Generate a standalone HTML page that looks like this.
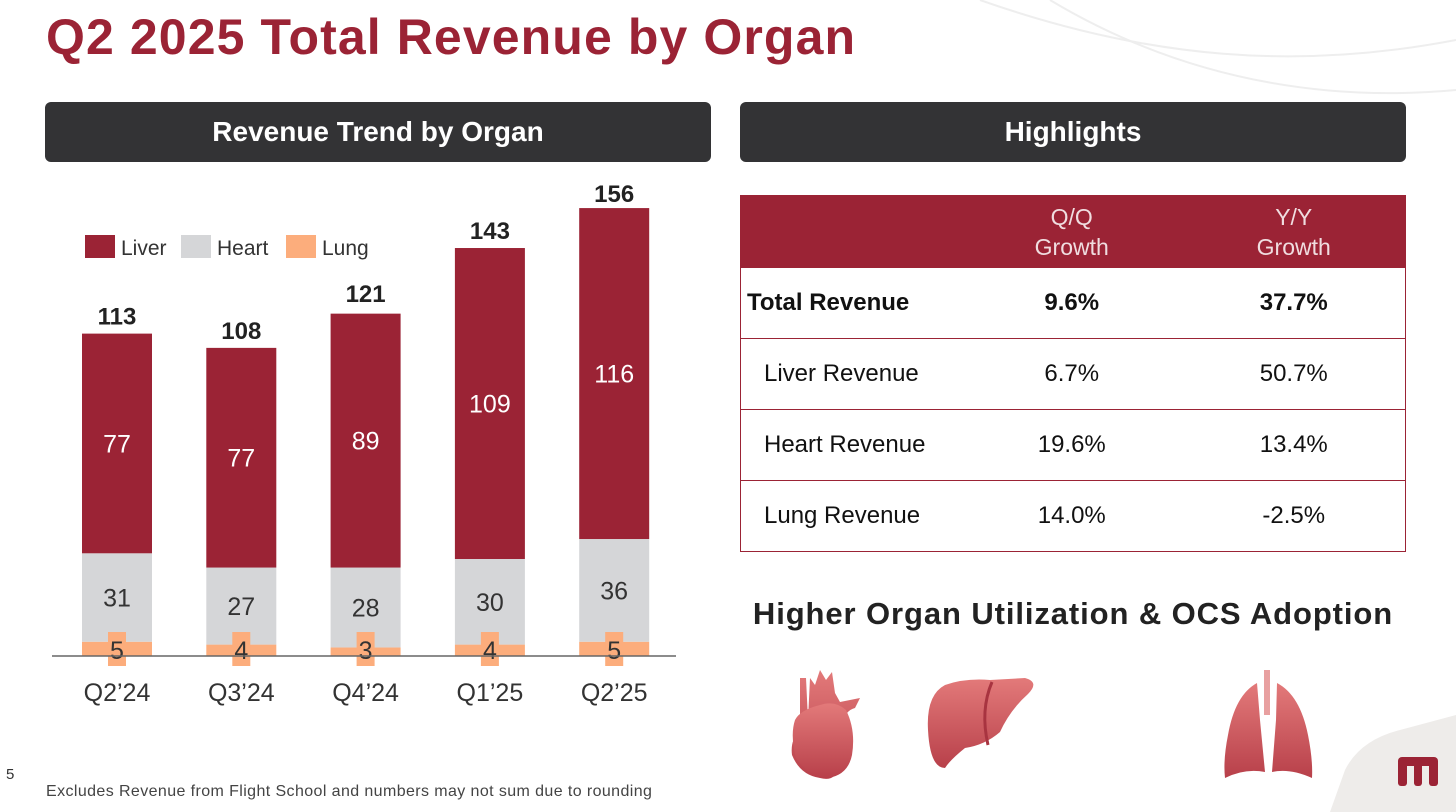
<!DOCTYPE html>
<html><head><meta charset="utf-8"><style>
body{margin:0;width:1456px;height:812px;background:#fff;position:relative;overflow:hidden;font-family:"Liberation Sans",sans-serif}
.abs{position:absolute}
.title{left:46px;top:8px;font-size:50px;font-weight:bold;color:#9b2335;letter-spacing:1.1px}
.bar{background:#333335;color:#fff;font-weight:bold;font-size:28px;text-align:center;border-radius:6px;height:60px;line-height:60px}
table{border-collapse:collapse;position:absolute;left:740px;top:195px;width:666px;font-size:24px;color:#111;border:1px solid #9b2335}
td{height:70px;padding:0;border-bottom:1px solid #9b2335;text-align:center}
tr.h td{background:#9b2335;color:#f0dde0;height:71px;line-height:30px;font-size:23px}
</style></head><body>
<svg class="abs" style="left:0;top:0" width="1456" height="812">
<path d="M980 0 C1150 60 1300 70 1456 40" stroke="#eee" stroke-width="2" fill="none"/>
<path d="M1050 0 C1200 90 1350 100 1456 90" stroke="#eee" stroke-width="2" fill="none"/>
<path d="M1330 812 L1345 770 Q1360 740 1400 730 L1456 715 L1456 812Z" fill="#eeecea"/>
<g fill="#9b2335"><rect x="1398" y="757" width="40" height="9" rx="4"/><rect x="1398" y="760" width="9" height="26" rx="3"/><rect x="1429" y="760" width="9" height="26" rx="3"/><rect x="1414" y="760" width="8" height="26" rx="3"/></g>
</svg>
<div class="abs title">Q2 2025 Total Revenue by Organ</div>
<div class="abs bar" style="left:45px;top:102px;width:666px">Revenue Trend by Organ</div>
<div class="abs bar" style="left:740px;top:102px;width:666px">Highlights</div>
<svg id="chart" class="abs" style="left:0;top:0" width="720" height="740"></svg>
<table>
<tr class="h"><td style="width:220px"></td><td>Q/Q<br>Growth</td><td>Y/Y<br>Growth</td></tr>
<tr style="font-weight:bold"><td style="text-align:left;padding-left:6px">Total Revenue</td><td>9.6%</td><td>37.7%</td></tr>
<tr><td style="text-align:left;padding-left:23px">Liver Revenue</td><td>6.7%</td><td>50.7%</td></tr>
<tr><td style="text-align:left;padding-left:23px">Heart Revenue</td><td>19.6%</td><td>13.4%</td></tr>
<tr><td style="text-align:left;padding-left:23px">Lung Revenue</td><td>14.0%</td><td>-2.5%</td></tr>
</table>
<div class="abs" style="left:740px;top:596px;width:666px;text-align:center;font-size:31px;font-weight:bold;color:#222;letter-spacing:0.9px">Higher Organ Utilization &amp; OCS Adoption</div>
<svg class="abs" style="left:760px;top:650px" width="600" height="140">
<defs><linearGradient id="g" x1="0" y1="0" x2="0" y2="1"><stop offset="0" stop-color="#e37a7a"/><stop offset="1" stop-color="#b8404a"/></linearGradient></defs>
<g><path d="M40 28 L40 80 Q30 90 32 105 Q40 125 60 128 Q75 132 78 118 L80 75 Q86 60 95 58 L100 48 L80 52 L75 43 L72 22 L66 30 L60 20 L55 35 L50 28 L48 70 L46 28 Z" fill="url(#g)"/><path d="M35 70 Q30 85 36 108 Q50 128 68 128 Q88 125 92 105 Q96 80 86 60 Q75 50 60 55 Q40 60 35 70Z" fill="url(#g)"/></g>
<g><path d="M230 30 L265 28 Q280 32 268 44 Q250 60 240 82 Q225 95 205 98 Q190 110 185 118 Q170 118 168 80 Q166 45 185 35 Q205 28 230 30Z" fill="url(#g)"/><path d="M232 32 Q220 60 228 95" stroke="#a83440" stroke-width="3" fill="none"/></g>
<g><rect x="504" y="20" width="6" height="45" fill="#e8a0a0"/><path d="M497 33 Q475 45 468 85 Q463 110 465 128 Q485 118 505 122 L500 70Z" fill="url(#g)"/><path d="M517 33 Q540 45 548 85 Q553 110 552 128 Q530 118 512 122 L516 70Z" fill="url(#g)"/></g>
</svg>
<div class="abs" style="left:6px;top:766px;font-size:15px;color:#333">5</div>
<div class="abs" style="left:46px;top:783px;font-size:16px;color:#444;letter-spacing:0.4px">Excludes Revenue from Flight School and numbers may not sum due to rounding</div>
<script>
const categories=["Q2’24","Q3’24","Q4’24","Q1’25","Q2’25"];
const liver=[77,77,89,109,116];
const heart=[31,27,28,30,36];
const lung=[5,4,3,4,5];
const totals=[113,108,121,143,156];
const svg=document.getElementById('chart');
const NS='http://www.w3.org/2000/svg';
const base=656,scale=2.853,x0=82,step=124.3,bw=70;
const xs=i=>x0+i*step, ys=v=>base-v*scale;
function mk(t,a,txt){const e=document.createElementNS(NS,t);for(const k in a)e.setAttribute(k,a[k]);if(txt!==undefined)e.textContent=txt;svg.appendChild(e);return e;}
const F='"Liberation Sans",sans-serif';
categories.forEach((c,i)=>{
 const x=xs(i);let cum=0;
 [[lung,'#fcad7c','lung'],[heart,'#d5d6d8','heart'],[liver,'#9b2335','liver']].forEach(([arr,col,n])=>{
  const r=mk('rect',{x:x,y:ys(cum+arr[i]),width:bw,height:arr[i]*scale,fill:col});
  
  
  const mid=ys(cum+arr[i]/2);
  if(n!=='lung'){const t=mk('text',{x:x+bw/2,y:mid+9,'text-anchor':'middle','font-size':25,fill:n==='liver'?'#fff':'#333','font-family':F},arr[i]);}
  cum+=arr[i];
 });
 const b=mk('rect',{x:x+bw/2-9,y:base-24,width:18,height:34,fill:'#fcad7c'});
 
 
 const lt=mk('text',{x:x+bw/2,y:base+3,'text-anchor':'middle','font-size':25,fill:'#333','font-family':F},lung[i]);
 
 
 const tt=mk('text',{x:x+bw/2,y:ys(totals[i])-9,'text-anchor':'middle','font-size':24,'font-weight':'bold',fill:'#222','font-family':F},totals[i]);
 
 
 const cl=mk('text',{x:x+bw/2,y:701,'text-anchor':'middle','font-size':25,fill:'#333','font-family':F},c);
 
 
});
const ax=mk('line',{x1:52,y1:base,x2:676,y2:base,stroke:'#666','stroke-width':1.5});


[['Liver','#9b2335',85],['Heart','#d5d6d8',181],['Lung','#fcad7c',286]].forEach(([n,c,x])=>{
 const r=mk('rect',{x:x,y:235,width:30,height:23,fill:c});
 
 
 const t=mk('text',{x:x+36,y:255,'font-size':21,fill:'#333','font-family':F},n);
 
 
});
</script>
</body></html>
